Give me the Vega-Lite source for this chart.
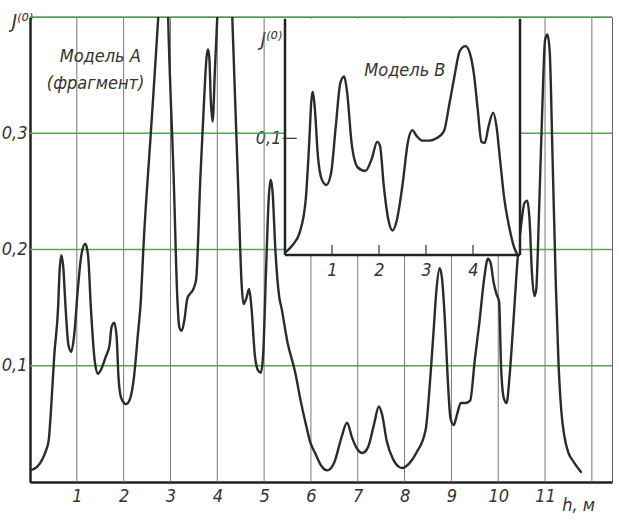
{
  "$schema": "https://vega.github.io/schema/vega-lite/v6.json",
  "width": 582,
  "height": 465,
  "autosize": "none",
  "padding": {"left": 30, "top": 17, "right": 7, "bottom": 40},
  "background": "white",
  "config": {
    "view": {"stroke": "#666", "strokeWidth": 1},
    "font": "DejaVu Sans Condensed, Liberation Sans Narrow, DejaVu Sans",
    "axis": {"zindex": 1, "labelColor": "#333", "titleColor": "#333", "labelFontStyle": "italic", "titleFontStyle": "italic", "labelFontWeight": "normal", "titleFontWeight": "normal"}
  },
  "datasets": {
    "one": [{}],
    "vgrid": [{"x": 1}, {"x": 2}, {"x": 3}, {"x": 4}, {"x": 5}, {"x": 6}, {"x": 7}, {"x": 8}, {"x": 9}, {"x": 10}, {"x": 11}, {"x": 12}],
    "hgrid": [{"y": 0.1}, {"y": 0.2}, {"y": 0.3}, {"y": 0.4}],
    "ticksB": [{"x": 1}, {"x": 2}, {"x": 3}, {"x": 4}],
    "modelA": [
      {"x": 0.0, "y": 0.010}, {"x": 0.15, "y": 0.013}, {"x": 0.27, "y": 0.020}, {"x": 0.35, "y": 0.028}, {"x": 0.40, "y": 0.036},
      {"x": 0.45, "y": 0.063}, {"x": 0.52, "y": 0.110}, {"x": 0.60, "y": 0.150}, {"x": 0.63, "y": 0.180}, {"x": 0.67, "y": 0.195},
      {"x": 0.71, "y": 0.185}, {"x": 0.76, "y": 0.150}, {"x": 0.82, "y": 0.118}, {"x": 0.88, "y": 0.112}, {"x": 0.94, "y": 0.125},
      {"x": 1.02, "y": 0.165}, {"x": 1.10, "y": 0.196}, {"x": 1.18, "y": 0.205}, {"x": 1.24, "y": 0.195}, {"x": 1.30, "y": 0.150},
      {"x": 1.38, "y": 0.105}, {"x": 1.45, "y": 0.093}, {"x": 1.52, "y": 0.097}, {"x": 1.62, "y": 0.108}, {"x": 1.70, "y": 0.118},
      {"x": 1.74, "y": 0.133}, {"x": 1.80, "y": 0.137}, {"x": 1.85, "y": 0.125}, {"x": 1.89, "y": 0.090}, {"x": 1.95, "y": 0.072},
      {"x": 2.05, "y": 0.067}, {"x": 2.14, "y": 0.072}, {"x": 2.22, "y": 0.090}, {"x": 2.30, "y": 0.125}, {"x": 2.37, "y": 0.158},
      {"x": 2.42, "y": 0.200}, {"x": 2.58, "y": 0.300}, {"x": 2.74, "y": 0.400}, {"x": 2.82, "y": 0.460}, {"x": 2.87, "y": 0.480},
      {"x": 2.92, "y": 0.450}, {"x": 2.95, "y": 0.400}, {"x": 3.07, "y": 0.260}, {"x": 3.15, "y": 0.155}, {"x": 3.19, "y": 0.133},
      {"x": 3.24, "y": 0.130}, {"x": 3.30, "y": 0.140}, {"x": 3.36, "y": 0.158}, {"x": 3.42, "y": 0.162}, {"x": 3.50, "y": 0.167},
      {"x": 3.55, "y": 0.175}, {"x": 3.64, "y": 0.263}, {"x": 3.72, "y": 0.330}, {"x": 3.77, "y": 0.365}, {"x": 3.80, "y": 0.372},
      {"x": 3.83, "y": 0.365}, {"x": 3.86, "y": 0.330}, {"x": 3.90, "y": 0.310}, {"x": 3.95, "y": 0.355}, {"x": 4.00, "y": 0.400},
      {"x": 4.10, "y": 0.490}, {"x": 4.18, "y": 0.550}, {"x": 4.25, "y": 0.490}, {"x": 4.32, "y": 0.400}, {"x": 4.45, "y": 0.250},
      {"x": 4.52, "y": 0.170}, {"x": 4.56, "y": 0.153}, {"x": 4.62, "y": 0.158}, {"x": 4.68, "y": 0.166}, {"x": 4.73, "y": 0.150},
      {"x": 4.80, "y": 0.110}, {"x": 4.87, "y": 0.096}, {"x": 4.93, "y": 0.094}, {"x": 4.98, "y": 0.110}, {"x": 5.04, "y": 0.180},
      {"x": 5.10, "y": 0.245}, {"x": 5.14, "y": 0.260}, {"x": 5.18, "y": 0.250}, {"x": 5.24, "y": 0.200}, {"x": 5.32, "y": 0.160},
      {"x": 5.37, "y": 0.150}, {"x": 5.50, "y": 0.120}, {"x": 5.66, "y": 0.095}, {"x": 5.78, "y": 0.070}, {"x": 5.89, "y": 0.050},
      {"x": 5.98, "y": 0.035}, {"x": 6.10, "y": 0.024}, {"x": 6.22, "y": 0.014}, {"x": 6.35, "y": 0.010}, {"x": 6.50, "y": 0.017},
      {"x": 6.65, "y": 0.038}, {"x": 6.77, "y": 0.051}, {"x": 6.88, "y": 0.038}, {"x": 6.98, "y": 0.029}, {"x": 7.10, "y": 0.025},
      {"x": 7.22, "y": 0.030}, {"x": 7.35, "y": 0.050}, {"x": 7.45, "y": 0.065}, {"x": 7.52, "y": 0.058}, {"x": 7.62, "y": 0.035},
      {"x": 7.75, "y": 0.020}, {"x": 7.88, "y": 0.013}, {"x": 7.95, "y": 0.012}, {"x": 8.10, "y": 0.016}, {"x": 8.25, "y": 0.025},
      {"x": 8.45, "y": 0.045}, {"x": 8.55, "y": 0.090}, {"x": 8.62, "y": 0.130}, {"x": 8.68, "y": 0.165}, {"x": 8.75, "y": 0.184},
      {"x": 8.80, "y": 0.175}, {"x": 8.86, "y": 0.140}, {"x": 8.92, "y": 0.090}, {"x": 8.98, "y": 0.055}, {"x": 9.05, "y": 0.049},
      {"x": 9.12, "y": 0.058}, {"x": 9.20, "y": 0.068}, {"x": 9.30, "y": 0.068}, {"x": 9.40, "y": 0.070}, {"x": 9.50, "y": 0.105},
      {"x": 9.60, "y": 0.138}, {"x": 9.70, "y": 0.175}, {"x": 9.78, "y": 0.192}, {"x": 9.84, "y": 0.188}, {"x": 9.90, "y": 0.172},
      {"x": 9.96, "y": 0.162}, {"x": 10.02, "y": 0.155}, {"x": 10.06, "y": 0.100}, {"x": 10.12, "y": 0.072}, {"x": 10.18, "y": 0.068},
      {"x": 10.24, "y": 0.090}, {"x": 10.32, "y": 0.135}, {"x": 10.42, "y": 0.195}, {"x": 10.50, "y": 0.225}, {"x": 10.56, "y": 0.240},
      {"x": 10.62, "y": 0.242}, {"x": 10.67, "y": 0.225}, {"x": 10.72, "y": 0.180}, {"x": 10.77, "y": 0.160}, {"x": 10.81, "y": 0.165},
      {"x": 10.87, "y": 0.230}, {"x": 10.94, "y": 0.320}, {"x": 11.00, "y": 0.380}, {"x": 11.05, "y": 0.385}, {"x": 11.10, "y": 0.370},
      {"x": 11.16, "y": 0.280}, {"x": 11.23, "y": 0.170}, {"x": 11.29, "y": 0.100}, {"x": 11.35, "y": 0.060}, {"x": 11.41, "y": 0.040},
      {"x": 11.50, "y": 0.025}, {"x": 11.60, "y": 0.018}, {"x": 11.78, "y": 0.008}
    ],
    "modelB": [
      {"x": 0.0, "y": 0.002}, {"x": 0.15, "y": 0.008}, {"x": 0.31, "y": 0.019}, {"x": 0.44, "y": 0.047}, {"x": 0.52, "y": 0.100},
      {"x": 0.56, "y": 0.132}, {"x": 0.59, "y": 0.140}, {"x": 0.63, "y": 0.128}, {"x": 0.70, "y": 0.085}, {"x": 0.78, "y": 0.065},
      {"x": 0.88, "y": 0.060}, {"x": 0.98, "y": 0.070}, {"x": 1.08, "y": 0.110}, {"x": 1.18, "y": 0.148}, {"x": 1.26, "y": 0.153},
      {"x": 1.32, "y": 0.140}, {"x": 1.42, "y": 0.095}, {"x": 1.55, "y": 0.075}, {"x": 1.71, "y": 0.072}, {"x": 1.85, "y": 0.083},
      {"x": 1.96, "y": 0.097}, {"x": 2.02, "y": 0.094}, {"x": 2.10, "y": 0.060}, {"x": 2.20, "y": 0.030}, {"x": 2.29, "y": 0.021},
      {"x": 2.38, "y": 0.030}, {"x": 2.50, "y": 0.060}, {"x": 2.62, "y": 0.098}, {"x": 2.71, "y": 0.107}, {"x": 2.80, "y": 0.102},
      {"x": 2.92, "y": 0.098}, {"x": 3.08, "y": 0.098}, {"x": 3.22, "y": 0.100}, {"x": 3.38, "y": 0.106}, {"x": 3.50, "y": 0.130},
      {"x": 3.60, "y": 0.152}, {"x": 3.72, "y": 0.175}, {"x": 3.84, "y": 0.179}, {"x": 3.94, "y": 0.172}, {"x": 4.02, "y": 0.155},
      {"x": 4.10, "y": 0.125}, {"x": 4.18, "y": 0.097}, {"x": 4.25, "y": 0.096}, {"x": 4.33, "y": 0.110}, {"x": 4.43, "y": 0.122},
      {"x": 4.50, "y": 0.110}, {"x": 4.58, "y": 0.080}, {"x": 4.66, "y": 0.050}, {"x": 4.77, "y": 0.024}, {"x": 4.88, "y": 0.006},
      {"x": 4.95, "y": 0.000}
    ]
  },
  "layer": [
    {
      "data": {"name": "vgrid"},
      "mark": {"type": "rule", "color": "#777", "strokeWidth": 1},
      "encoding": {
        "x": {"field": "x", "type": "quantitative", "scale": {"domain": [0, 12.43], "nice": false, "zero": false}, "axis": null}
      }
    },
    {
      "data": {"name": "hgrid"},
      "mark": {"type": "rule", "color": "#52a852", "strokeWidth": 1.5},
      "encoding": {
        "y": {"field": "y", "type": "quantitative", "scale": {"domain": [0, 0.4], "nice": false}, "axis": null}
      }
    },
    {
      "data": {"name": "modelA"},
      "mark": {"type": "line", "color": "#2b2b2b", "strokeWidth": 2.4, "interpolate": "monotone", "clip": true},
      "encoding": {
        "x": {
          "field": "x", "type": "quantitative", "scale": {"domain": [0, 12.43], "nice": false, "zero": false},
          "axis": {
            "orient": "bottom", "values": [1, 2, 3, 4, 5, 6, 7, 8, 9, 10, 11], "format": "d", "ticks": false, "grid": false,
            "domainColor": "#222", "domainWidth": 2.5, "labelFontSize": 18, "labelPadding": 5,
            "title": "h, м", "titleFontSize": 18, "titleX": 548, "titleY": 28, "titleAlign": "center", "titleBaseline": "alphabetic"
          }
        },
        "y": {
          "field": "y", "type": "quantitative", "scale": {"domain": [0, 0.4], "nice": false},
          "axis": {
            "orient": "left", "values": [0.1, 0.2, 0.3], "ticks": false, "grid": false,
            "labelExpr": "replace(format(datum.value, '.1f'), '.', ',')",
            "domainColor": "#222", "domainWidth": 2.5, "labelFontSize": 18, "labelPadding": 3,
            "title": "J⁽⁰⁾", "titleFontSize": 20, "titleAngle": 0, "titleX": -8, "titleY": 14, "titleAlign": "center", "titleBaseline": "bottom"
          }
        }
      }
    },
    {
      "data": {"name": "one"},
      "mark": {"type": "text", "fontSize": 18, "fontStyle": "italic", "color": "#333", "align": "center"},
      "encoding": {
        "x": {"datum": 1.5, "scale": {"domain": [0, 12.43], "nice": false, "zero": false}, "axis": null},
        "y": {"datum": 0.366, "scale": {"domain": [0, 0.4], "nice": false}, "axis": null},
        "text": {"value": "Модель А"}
      }
    },
    {
      "data": {"name": "one"},
      "mark": {"type": "text", "fontSize": 18, "fontStyle": "italic", "color": "#333", "align": "center"},
      "encoding": {
        "x": {"datum": 1.4, "scale": {"domain": [0, 12.43], "nice": false, "zero": false}, "axis": null},
        "y": {"datum": 0.342, "scale": {"domain": [0, 0.4], "nice": false}, "axis": null},
        "text": {"value": "(фрагмент)"}
      }
    },
    {
      "data": {"name": "one"},
      "mark": {"type": "rect", "color": "white", "opacity": 1},
      "encoding": {
        "x": {"datum": 0, "scale": {"domain": [0, 5], "range": [255, 490], "nice": false, "zero": false}, "axis": null},
        "x2": {"datum": 5},
        "y": {"datum": 0, "scale": {"domain": [0, 0.204], "range": [238, 0], "nice": false}, "axis": null},
        "y2": {"datum": 0.2025}
      }
    },
    {
      "data": {"name": "one"},
      "mark": {"type": "rule", "color": "#222", "strokeWidth": 2.5},
      "encoding": {
        "x": {"datum": 5, "scale": {"domain": [0, 5], "range": [255, 490], "nice": false, "zero": false}, "axis": null},
        "y": {"datum": 0, "scale": {"domain": [0, 0.204], "range": [238, 0], "nice": false}, "axis": null},
        "y2": {"datum": 0.2025}
      }
    },
    {
      "data": {"name": "one"},
      "mark": {"type": "rule", "color": "#222", "strokeWidth": 2.5},
      "encoding": {
        "x": {"datum": 0, "scale": {"domain": [0, 5], "range": [255, 490], "nice": false, "zero": false}, "axis": null},
        "y": {"datum": 0, "scale": {"domain": [0, 0.204], "range": [238, 0], "nice": false}, "axis": null},
        "y2": {"datum": 0.2025}
      }
    },
    {
      "data": {"name": "one"},
      "mark": {"type": "rule", "color": "#222", "strokeWidth": 2.5},
      "encoding": {
        "x": {"datum": 0, "scale": {"domain": [0, 5], "range": [255, 490], "nice": false, "zero": false}, "axis": null},
        "x2": {"datum": 5},
        "y": {"datum": 0, "scale": {"domain": [0, 0.204], "range": [238, 0], "nice": false}, "axis": null}
      }
    },
    {
      "data": {"name": "ticksB"},
      "mark": {"type": "rule", "color": "#333", "strokeWidth": 1.2},
      "encoding": {
        "x": {"field": "x", "type": "quantitative", "scale": {"domain": [0, 5], "range": [255, 490], "nice": false, "zero": false}, "axis": null},
        "y": {"datum": 0, "scale": {"domain": [0, 0.204], "range": [238, 0], "nice": false}, "axis": null},
        "y2": {"datum": 0.0085}
      }
    },
    {
      "data": {"name": "one"},
      "mark": {"type": "rule", "color": "#333", "strokeWidth": 1.2},
      "encoding": {
        "x": {"datum": -0.05, "scale": {"domain": [0, 5], "range": [255, 490], "nice": false, "zero": false}, "axis": null},
        "x2": {"datum": 0.25},
        "y": {"datum": 0.1, "scale": {"domain": [0, 0.204], "range": [238, 0], "nice": false}, "axis": null}
      }
    },
    {
      "data": {"name": "modelB"},
      "mark": {"type": "line", "color": "#2b2b2b", "strokeWidth": 2.4, "interpolate": "monotone"},
      "encoding": {
        "x": {
          "field": "x", "type": "quantitative", "scale": {"domain": [0, 5], "range": [255, 490], "nice": false, "zero": false},
          "axis": {
            "orient": "bottom", "offset": -227, "values": [1, 2, 3, 4], "format": "d", "ticks": false, "domain": false,
            "grid": false, "labelFontSize": 18, "labelPadding": 6, "title": null
          }
        },
        "y": {
          "field": "y", "type": "quantitative", "scale": {"domain": [0, 0.204], "range": [238, 0], "nice": false},
          "axis": {
            "orient": "left", "offset": -255, "values": [0.1], "ticks": false, "domain": false,
            "labelExpr": "replace(format(datum.value, '.1f'), '.', ',')",
            "grid": false, "labelFontSize": 18, "labelPadding": 4,
            "title": "J⁽⁰⁾", "titleFontSize": 20, "titleAngle": 0, "titleX": -14, "titleY": 32, "titleAlign": "center", "titleBaseline": "bottom"
          }
        }
      }
    },
    {
      "data": {"name": "one"},
      "mark": {"type": "text", "fontSize": 18, "fontStyle": "italic", "color": "#333", "align": "center"},
      "encoding": {
        "x": {"datum": 2.55, "scale": {"domain": [0, 5], "range": [255, 490], "nice": false, "zero": false}, "axis": null},
        "y": {"datum": 0.158, "scale": {"domain": [0, 0.204], "range": [238, 0], "nice": false}, "axis": null},
        "text": {"value": "Модель В"}
      }
    }
  ],
  "resolve": {"scale": {"x": "independent", "y": "independent"}, "axis": {"x": "independent", "y": "independent"}}
}
